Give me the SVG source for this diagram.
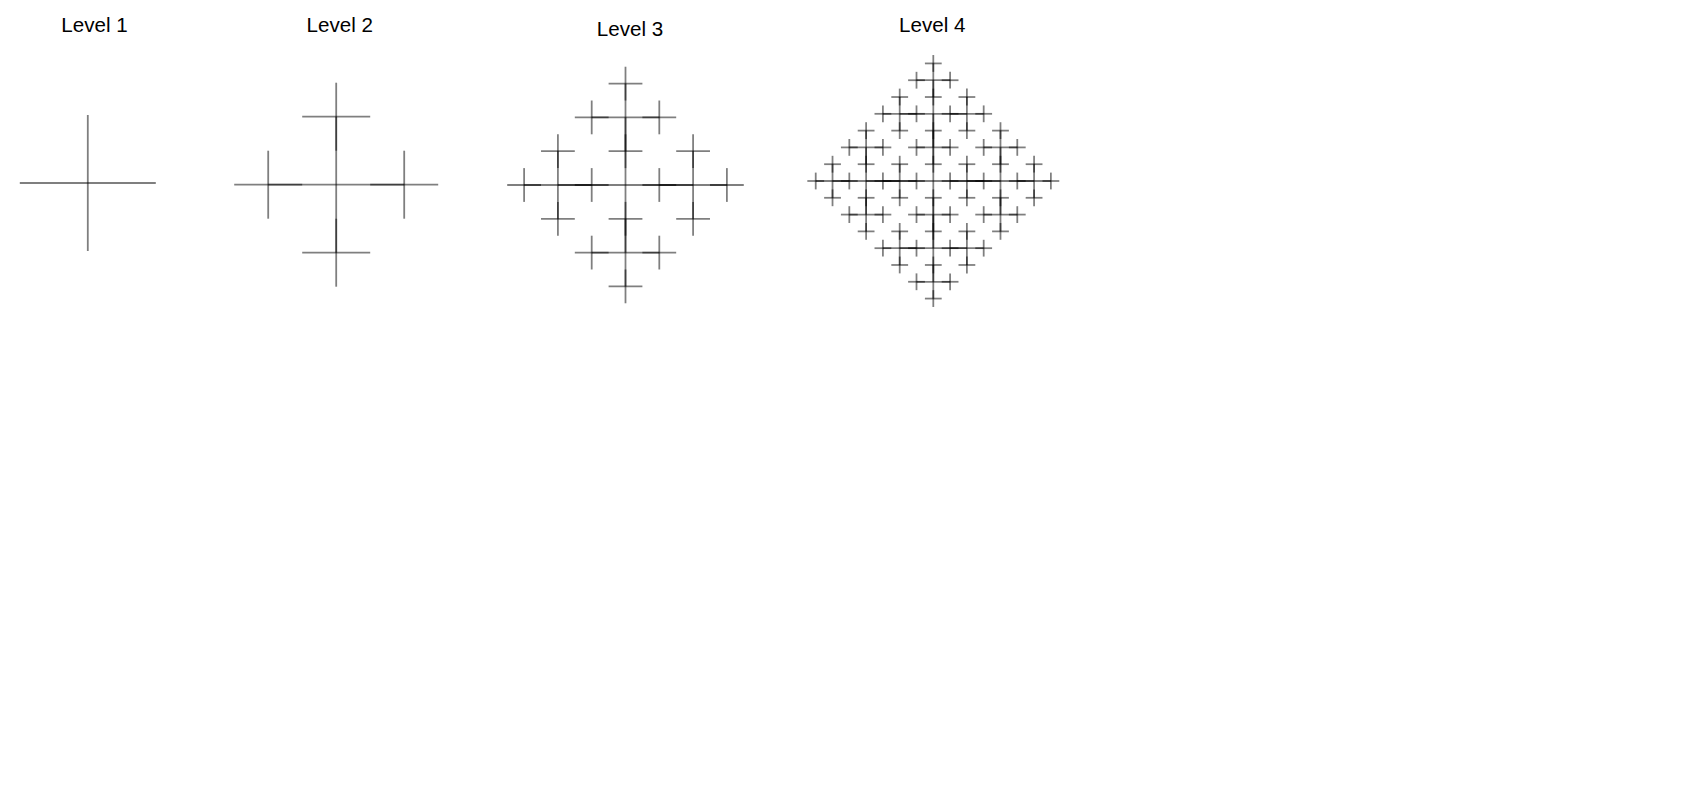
<svg xmlns="http://www.w3.org/2000/svg" xmlns:xlink="http://www.w3.org/1999/xlink" width="1681" height="790" viewBox="0 0 1681 790">
<style>
.ln{fill:none;stroke:#000;stroke-opacity:.5;stroke-width:1.8}
.t{font-family:"Liberation Sans",Arial,sans-serif;font-size:20.6px;fill:#000;text-anchor:middle}
</style>
<defs>
<g id="x68"><line class="ln" x1="-68" y1="0" x2="68" y2="0"/><line class="ln" x1="0" y1="-68" x2="0" y2="68"/></g>
<g id="x34"><line class="ln" x1="-34" y1="0" x2="34" y2="0"/><line class="ln" x1="0" y1="-34" x2="0" y2="34"/></g>
<g id="x17"><line class="ln" x1="-17" y1="0" x2="17" y2="0"/><line class="ln" x1="0" y1="-17" x2="0" y2="17"/></g>
<g id="x8"><line class="ln" x1="-8.5" y1="0" x2="8.5" y2="0"/><line class="ln" x1="0" y1="-8.5" x2="0" y2="8.5"/></g>
<g id="s17"><use xlink:href="#x17"/><use xlink:href="#x8" x="17"/><use xlink:href="#x8" x="-17"/><use xlink:href="#x8" y="17"/><use xlink:href="#x8" y="-17"/></g>
<g id="s34a"><use xlink:href="#x34"/><use xlink:href="#s17" x="34"/><use xlink:href="#s17" x="-34"/><use xlink:href="#s17" y="34"/><use xlink:href="#s17" y="-34"/></g>
<g id="s34b"><use xlink:href="#x34"/><use xlink:href="#x17" x="34"/><use xlink:href="#x17" x="-34"/><use xlink:href="#x17" y="34"/><use xlink:href="#x17" y="-34"/></g>
</defs>
<rect width="1681" height="790" fill="#fff"/>
<g id="level1">
<text class="t" x="94.5" y="32">Level 1</text>
<g transform="translate(87.8,183)"><use xlink:href="#x68"/></g>
</g>
<g id="level2">
<text class="t" x="339.7" y="32.3">Level 2</text>
<g transform="translate(336.2,184.7)"><use xlink:href="#x68"/><use xlink:href="#x34" x="68"/><use xlink:href="#x34" x="-68"/><use xlink:href="#x34" y="68"/><use xlink:href="#x34" y="-68"/></g>
</g>
<g id="level3">
<text class="t" x="630" y="36.3">Level 3</text>
<g transform="translate(625.5,185) scale(0.994)"><use xlink:href="#x68"/><use xlink:href="#s34b" x="68"/><use xlink:href="#s34b" x="-68"/><use xlink:href="#s34b" y="68"/><use xlink:href="#s34b" y="-68"/></g>
</g>
<g id="level4">
<text class="t" x="932.2" y="32.3">Level 4</text>
<g transform="translate(933.3,181) scale(0.988)"><use xlink:href="#x68"/><use xlink:href="#s34a" x="68"/><use xlink:href="#s34a" x="-68"/><use xlink:href="#s34a" y="68"/><use xlink:href="#s34a" y="-68"/></g>
</g>
</svg>
